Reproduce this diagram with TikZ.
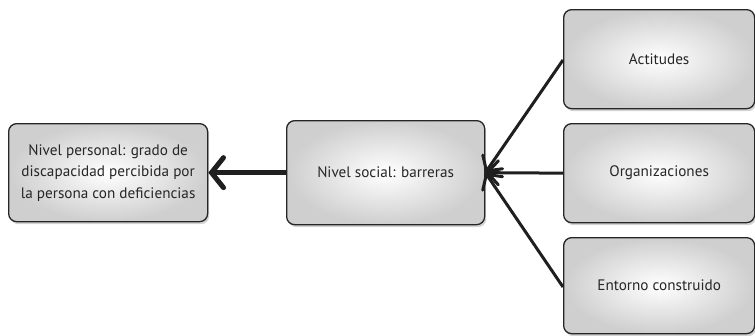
\documentclass[tikz,border=0pt]{standalone}
\usepackage{fontspec}
\setmainfont{PT Sans}
\usetikzlibrary{arrows.meta,shadows,shadings}
\begin{document}
\begin{tikzpicture}[x=1pt,y=-1pt,
  boxnode/.style={draw=black!85, line width=1.3pt, rounded corners=8pt,
    inner color=white, outer color=black!19,
    drop shadow={opacity=0.35, shadow xshift=1.5pt, shadow yshift=-2.5pt},
    align=center, inner sep=2pt, font=\fontsize{15.2}{21.5}\selectfont, text=black!85},
  thinarrow/.style={line width=3pt, draw=black!88,
    -{Straight Barb[length=11pt,width=24pt,line cap=round]}},
  thickarrow/.style={line width=5pt, draw=black!88,
    -{Straight Barb[length=12pt,width=30pt,line cap=round]}}]
\useasboundingbox (0,0) rectangle (755,335);
\node[boxnode, minimum width=199pt, minimum height=98pt, anchor=north west] (pers) at (8,123) {Nivel personal: grado de\\discapacidad percibida por\\la persona con deficiencias};
\node[boxnode, minimum width=198pt, minimum height=104pt, anchor=north west] (soc) at (286,120) {Nivel social: barreras};
\node[boxnode, minimum width=191pt, minimum height=99pt, anchor=north west] (act) at (563,9) {Actitudes};
\node[boxnode, minimum width=191pt, minimum height=99pt, anchor=north west] (org) at (563,123) {Organizaciones};
\node[boxnode, minimum width=191pt, minimum height=96pt, anchor=north west] (ent) at (563,237) {Entorno construido};
\coordinate (hub) at (soc.east);
\draw[thickarrow] (soc.west) -- (pers.east);
\draw[thinarrow] (act.west |- 0,60) -- (hub);
\draw[thinarrow] (org.west) -- (hub);
\draw[thinarrow] (ent.west |- 0,287) -- (hub);
\end{tikzpicture}
\end{document}
